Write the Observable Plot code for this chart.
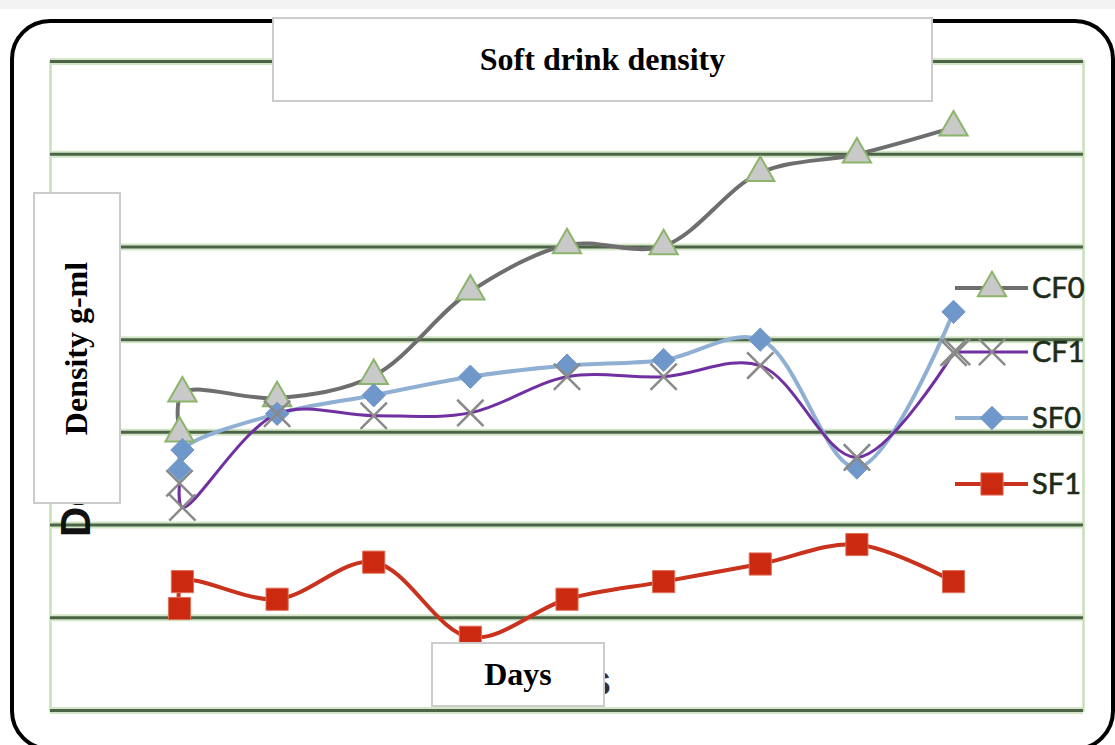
<!DOCTYPE html>
<html>
<head>
<meta charset="utf-8">
<script src="https://cdn.jsdelivr.net/npm/d3@7"></script>
<script src="https://cdn.jsdelivr.net/npm/@observablehq/plot@0.6"></script>
<style>
  html, body { margin: 0; padding: 0; background: #fff; overflow: hidden; }
  #wrap { position: relative; width: 1115px; height: 745px; overflow: hidden; background: #fff; }
  #topband { position: absolute; left: 0; top: 0; width: 1115px; height: 9px; background: #f3f3f3; }
  #border { position: absolute; left: 10px; top: 19px; width: 1105px; height: 732px; box-sizing: border-box;
            border: 4.5px solid #000; border-radius: 40px; }
  #chart { position: absolute; left: 0; top: 0; }
  .box { position: absolute; background: #fff; border: 2px solid #cccccc; box-sizing: border-box;
         display: flex; align-items: center; justify-content: center;
         font-family: "Liberation Serif", "Times New Roman", serif; font-weight: bold; font-size: 32px; color: #000; }
  #title { left: 272px; top: 17px; width: 661px; height: 85px; }
  #ylab { left: 33px; top: 192px; width: 88px; height: 312px; }
  #ylab span { display: inline-block; transform: rotate(-90deg); white-space: nowrap; }
  #xlab { left: 431px; top: 642px; width: 174px; height: 65px; }
  #under, #legend { position: absolute; left: 0; top: 0; }
</style>
</head>
<body>
<div id="wrap">
  <div id="topband"></div>
  <div id="border"></div>
  <div id="chart"></div>
  <svg id="under" width="1115" height="745"></svg>
  <div class="box" id="title">Soft drink density</div>
  <div class="box" id="ylab"><span>Density g-ml</span></div>
  <div class="box" id="xlab">Days</div>
  <svg id="legend" width="1115" height="745"></svg>
</div>
<script>
// ---- data (y in gridline units) ----
const days = [0.99, 1.02, 2, 3, 4, 5, 6, 7, 8, 9];
const cf0 = [2.99, 3.42, 3.37, 3.61, 4.52, 5.02, 5.01, 5.80, 6.00, 6.29];
const cf1 = [2.45, 2.19, 3.20, 3.18, 3.21, 3.60, 3.60, 3.72, 2.73, 3.86];
const sf0 = [2.60, 2.81, 3.20, 3.40, 3.60, 3.72, 3.78, 4.00, 2.62, 4.30];
const sf1 = [1.10, 1.39, 1.20, 1.60, 0.79, 1.20, 1.39, 1.58, 1.79, 1.39];
const seriesNames = ["CF0", "CF1", "SF0", "SF1"];
const yGrid = [0, 1, 2, 3, 4, 5, 6, 7];

// ---- styles ----
const styles = {
  CF0: {values: cf0, line: "#6e6e6e", lw: 4, symbol: "triangle", fill: "#c9c9c9", stroke: "#8cb46a", sw: 2, r: 10.5},
  SF0: {values: sf0, line: "#8fb0d3", lw: 4, symbol: "diamond2", fill: "#7097c9", stroke: "#7097c9", sw: 1, r: 10.5},
  CF1: {values: cf1, line: "#7030a0", lw: 3, symbol: "times", fill: "none", stroke: "#8a8a8a", sw: 2.5, r: 12},
  SF1: {values: sf1, line: "#c9321c", lw: 4, symbol: "square", fill: "#cc2a10", stroke: "#e0705a", sw: 1, r: 12.5}
};
const drawOrder = ["CF0", "SF0", "CF1", "SF1"];

const rows = s => days.map((d, i) => ({day: d, value: styles[s].values[i], series: s}));

const marks = [
  Plot.frame({stroke: "#c8e0b8", strokeWidth: 2.5}),
  Plot.ruleY(yGrid, {stroke: "#d3e6c8", strokeWidth: 7}),
  Plot.ruleY(yGrid, {stroke: "#4c6446", strokeWidth: 3})
];
for (const s of drawOrder) {
  const st = styles[s];
  marks.push(Plot.line(rows(s), {x: "day", y: "value", stroke: st.line, strokeWidth: st.lw, curve: "catmull-rom"}));
}
for (const s of drawOrder) {
  const st = styles[s];
  marks.push(Plot.dot(rows(s), {x: "day", y: "value", symbol: () => st.symbol, r: st.r,
    fill: st.fill, stroke: st.stroke, strokeWidth: st.sw}));
}

const chart = Plot.plot({
  width: 1115, height: 745,
  marginLeft: 50, marginRight: 32, marginTop: 61, marginBottom: 35,
  x: {domain: [-0.345, 10.345], axis: null},
  y: {domain: [0, 7], axis: null},
  style: {background: "transparent"},
  marks
});
document.getElementById("chart").appendChild(chart);

// ---- remnants of original axis labels behind the boxes ----
const under = d3.select("#under");
under.append("text").attr("transform", "translate(90,537) rotate(-90)")
  .attr("font-family", "Liberation Sans, Arial, sans-serif").attr("font-weight", "bold")
  .attr("font-size", 42).attr("fill", "#111").text("Density");
under.append("text").attr("x", 611).attr("y", 695).attr("text-anchor", "end")
  .attr("font-family", "Liberation Sans, Arial, sans-serif").attr("font-weight", "bold")
  .attr("font-size", 42).attr("fill", "#333").text("Days");

// ---- legend ----
const leg = d3.select("#legend");
const legendY = {CF0: 288, CF1: 352, SF0: 418, SF1: 484};
const symMap = {triangle: d3.symbolTriangle, diamond2: d3.symbolDiamond2, times: d3.symbolTimes, square: d3.symbolSquare};
for (const s of seriesNames) {
  const st = styles[s];
  const y = legendY[s];
  leg.append("line").attr("x1", 955).attr("x2", 1028).attr("y1", y).attr("y2", y)
    .attr("stroke", st.line).attr("stroke-width", st.lw);
  const xs = s === "CF1" ? [957, 992] : [992];
  for (const x of xs) {
    leg.append("path").attr("transform", `translate(${x},${y})`)
      .attr("d", d3.symbol(symMap[st.symbol], Math.PI * st.r * st.r)())
      .attr("fill", st.fill).attr("stroke", st.stroke).attr("stroke-width", st.sw);
  }
  leg.append("text").attr("x", 1032).attr("y", y + 10)
    .attr("font-family", "Lato, 'Open Sans', sans-serif").attr("font-size", 29)
    .attr("fill", "#1c2c17").attr("stroke", "#1c2c17").attr("stroke-width", 0.6).text(s);
}
</script>
</body>
</html>
